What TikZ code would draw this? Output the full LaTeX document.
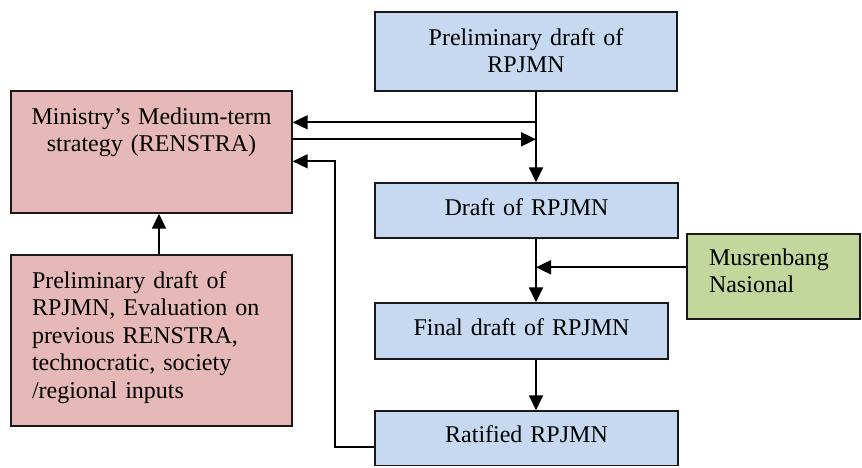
\documentclass[tikz,border=0pt]{standalone}
\usepackage{fontspec}
\setmainfont{Liberation Serif}
\usetikzlibrary{arrows.meta}
\definecolor{planblue}{HTML}{C6D9F1}
\definecolor{planpink}{HTML}{E6B9B8}
\definecolor{plangreen}{HTML}{C3D69B}
\begin{document}
\begin{tikzpicture}[x=1pt,y=-1pt,
  every node/.style={font=\fontsize{24}{27.5}\selectfont},
  stage/.style={draw=black!90, line width=1.4pt, anchor=base, inner ysep=0pt,
    inner xsep=6pt, align=center},
  link/.style={line width=1.8pt, -{Triangle[length=15pt,width=14pt]}}]
\useasboundingbox (0,0) rectangle (862,467);

% planning stages (right column)
\node[stage, fill=planblue, text width=290pt, text height=33pt, text depth=46pt]
  (pre) at (526,45) {Preliminary draft of\\RPJMN};
\node[stage, fill=planblue, text width=291pt, text height=32pt, text depth=23pt]
  (draft) at (526.5,215) {Draft of RPJMN};
\node[stage, fill=planblue, text width=281pt, text height=32pt, text depth=24pt]
  (final) at (521.5,335) {Final draft of RPJMN};
\node[stage, fill=planblue, text width=291pt, text height=31pt, text depth=23.5pt]
  (rat) at (526.5,442) {Ratified RPJMN};

% national forum
\node[stage, fill=plangreen, inner xsep=22pt, text width=129pt, text height=31pt,
  text depth=54pt, align=left] (mus) at (773.5,265) {Musrenbang\\Nasional};

% ministry strategy and its inputs (left column)
\node[stage, fill=planpink, text width=269pt, text height=33pt, text depth=89pt]
  (min) at (151.5,124) {Ministry’s Medium-term\\strategy (RENSTRA)};
\node[stage, fill=planpink, inner xsep=21pt, text width=239pt, text height=33pt,
  text depth=138pt, align=left] (inp) at (151.5,288)
  {\makebox[\linewidth][s]{Preliminary draft of}\\
   \makebox[\linewidth][s]{RPJMN, Evaluation on}\\
   \makebox[\linewidth][s]{previous RENSTRA,}\\
   \makebox[\linewidth][s]{technocratic, society}\\
   /regional inputs};

% connectors
\coordinate (spine) at ([xshift=10pt]pre.south);
\coordinate (m1) at ([yshift=-32pt]min.north east);
\coordinate (m2) at ([yshift=-49pt]min.north east);
\coordinate (m3) at ([yshift=-71pt]min.north east);
\coordinate (r1) at ([yshift=-37pt]rat.north west);
\coordinate (bend) at ([xshift=42pt]min.east);
\coordinate (u1) at ([yshift=-34pt]mus.north west);

\draw[link] (spine) -- (spine |- draft.north);
\draw[link] (spine |- m1) -- (m1);
\draw[link] (m2) -- (spine |- m2);
\draw[link] (r1) -- (r1 -| bend) |- (m3);
\draw[link] ([xshift=7.5pt]inp.north) -- ([xshift=7.5pt]min.south);
\draw[link] (spine |- draft.south) -- (spine |- final.north);
\draw[link] (u1) -- (spine |- u1);
\draw[link] (spine |- final.south) -- (spine |- rat.north);
\end{tikzpicture}
\end{document}
